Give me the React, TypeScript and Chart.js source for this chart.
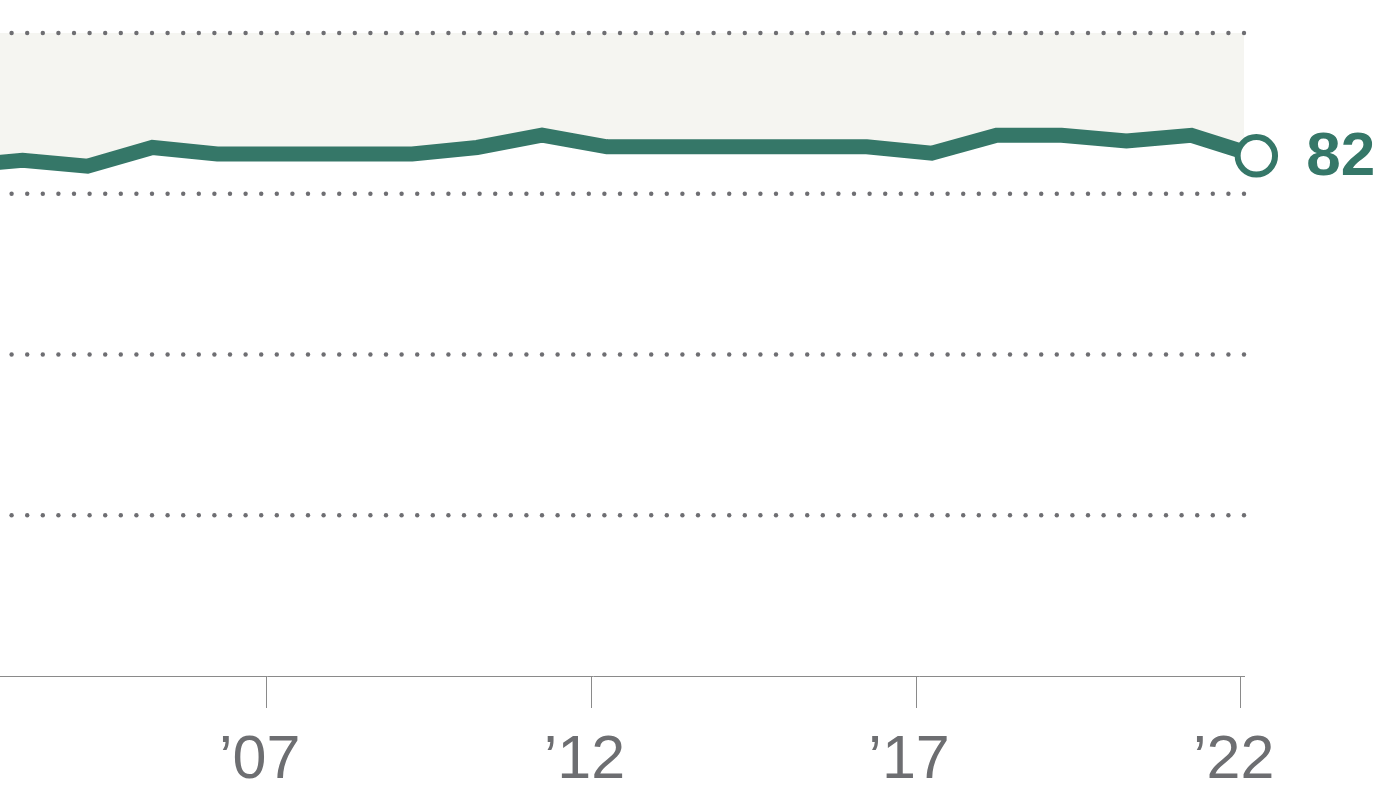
import React, { useEffect, useRef } from "react";
import { Chart, registerables } from "chart.js";

Chart.register(...registerables);

// Survey years (fielded in late March each year)
const years = [
  2002, 2003, 2004, 2005, 2006, 2007, 2008, 2009, 2010, 2011, 2012,
  2013, 2014, 2015, 2016, 2017, 2018, 2019, 2020, 2021, 2022,
];
const surveyOffset = 0.24;
const shareValues = [
  79.3, 80.2, 79.3, 82.2, 81.2, 81.2, 81.2, 81.2, 82.2, 84.1, 82.3,
  82.3, 82.3, 82.3, 82.3, 81.3, 84.1, 84.1, 83.2, 84.1, 80.9,
];
const endLabel = "82";
const tickYears = [2007, 2012, 2017, 2022];
const tickLabels = ["\u201907", "\u201912", "\u201917", "\u201922"];
const gridValues = [25, 50, 75, 100];

const GREEN = "#357768";
const BAND = "#f5f5f1";
const DOT = "#6e6e72";
const AXIS = "#8a8a8a";
const FONT = "'Liberation Sans', Arial, Helvetica, sans-serif";

const overlayPlugin = {
  id: "overlay",
  afterDatasetsDraw(chart: any) {
    const { ctx, chartArea, scales } = chart;
    const xs = scales.x;
    const ys = scales.y;
    ctx.save();
    // dotted horizontal grid lines
    ctx.fillStyle = DOT;
    const step = 15.6;
    gridValues.forEach((v) => {
      const py = ys.getPixelForValue(v);
      for (let px = chartArea.right; px >= chartArea.left - 2; px -= step) {
        ctx.beginPath();
        ctx.arc(px, py, 2.2, 0, Math.PI * 2);
        ctx.fill();
      }
    });
    // end marker + label
    const li = years.length - 1;
    const cx = xs.getPixelForValue(years[li] + surveyOffset);
    const cy = ys.getPixelForValue(shareValues[li]);
    ctx.beginPath();
    ctx.arc(cx, cy, 18.7, 0, Math.PI * 2);
    ctx.fillStyle = "#ffffff";
    ctx.fill();
    ctx.lineWidth = 6;
    ctx.strokeStyle = GREEN;
    ctx.stroke();
    ctx.fillStyle = GREEN;
    ctx.font = `bold 62px ${FONT}`;
    ctx.textAlign = "left";
    ctx.textBaseline = "middle";
    ctx.fillText(endLabel, cx + 50, cy + 2);
    ctx.restore();
  },
};

export default function App() {
  const canvasRef = useRef<HTMLCanvasElement | null>(null);

  useEffect(() => {
    const canvas = canvasRef.current;
    if (!canvas) return;
    const points = years.map((yr, i) => ({ x: yr + surveyOffset, y: shareValues[i] }));
    const chart = new Chart(canvas, {
      type: "line",
      data: {
        datasets: [
          {
            data: points,
            borderColor: GREEN,
            borderWidth: 15,
            borderJoinStyle: "miter",
            borderCapStyle: "butt",
            pointRadius: 0,
            pointHoverRadius: 0,
            fill: false,
            tension: 0,
            clip: false,
          } as any,
          {
            data: points,
            borderWidth: 0,
            borderColor: "rgba(0,0,0,0)",
            pointRadius: 0,
            pointHoverRadius: 0,
            fill: "end",
            backgroundColor: BAND,
            tension: 0,
          } as any,
        ],
      },
      options: {
        animation: false,
        responsive: false,
        maintainAspectRatio: false,
        events: [],
        layout: { padding: { top: 33, right: 156, left: 0, bottom: 0 } },
        plugins: {
          legend: { display: false },
          tooltip: { enabled: false },
        },
        scales: {
          x: {
            type: "linear",
            min: 2002,
            max: 2022.05,
            afterBuildTicks: (s: any) => {
              s.ticks = tickYears.map((v) => ({ value: v }));
            },
            afterFit: (s: any) => {
              s.height = 113;
            },
            grid: {
              drawOnChartArea: false,
              drawTicks: true,
              tickLength: 32,
              color: AXIS,
              lineWidth: 1,
            },
            border: { display: true, color: AXIS, width: 1 },
            ticks: {
              color: "#6d6e71",
              font: { size: 61, family: FONT },
              padding: 17,
              maxRotation: 0,
              autoSkip: false,
              labelOffset: -7,
              callback: (v: any) => {
                const i = tickYears.indexOf(Number(v));
                return i >= 0 ? tickLabels[i] : "";
              },
            },
          },
          y: {
            min: 0,
            max: 100,
            afterFit: (s: any) => {
              s.width = 0;
            },
            ticks: { display: false, stepSize: 25 },
            grid: { display: false, drawTicks: false },
            border: { display: false },
          },
        },
      } as any,
      plugins: [overlayPlugin],
    });
    return () => chart.destroy();
  }, []);

  return (
    <div
      style={{
        position: "fixed",
        left: 0,
        top: 0,
        width: 1400,
        height: 789,
        overflow: "hidden",
        background: "#ffffff",
      }}
    >
      <canvas
        ref={canvasRef}
        width={1458}
        height={789}
        style={{ position: "absolute", left: -58, top: 0, width: 1458, height: 789 }}
      />
    </div>
  );
}
